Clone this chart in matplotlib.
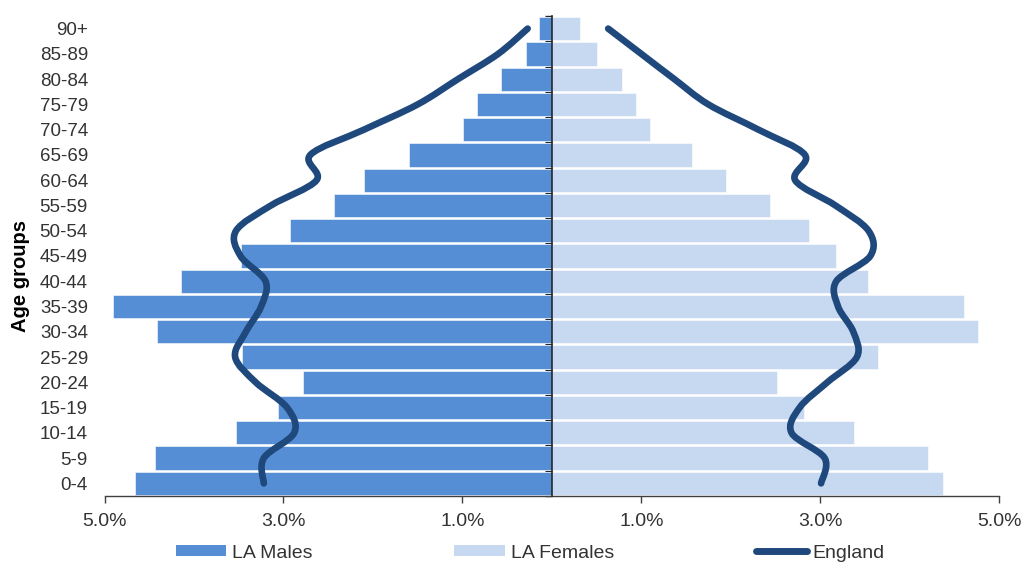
import numpy as np
import matplotlib
matplotlib.use("Agg")
import matplotlib.pyplot as plt
from matplotlib.path import Path
from matplotlib.patches import PathPatch, Patch
from matplotlib.lines import Line2D

plt.rcParams['font.family'] = ['Liberation Sans', 'DejaVu Sans']

age_groups = ["0-4", "5-9", "10-14", "15-19", "20-24", "25-29", "30-34", "35-39",
              "40-44", "45-49", "50-54", "55-59", "60-64", "65-69", "70-74",
              "75-79", "80-84", "85-89", "90+"]
la_males = [4.66, 4.44, 3.53, 3.06, 2.78, 3.46, 4.41, 4.90, 4.14, 3.48,
            2.93, 2.44, 2.10, 1.60, 0.99, 0.84, 0.57, 0.29, 0.14]
la_females = [4.37, 4.21, 3.38, 2.82, 2.52, 3.65, 4.76, 4.61, 3.53, 3.18,
              2.87, 2.44, 1.95, 1.57, 1.10, 0.94, 0.78, 0.51, 0.32]
eng_males = [3.22, 3.22, 2.88, 2.96, 3.31, 3.54, 3.42, 3.25, 3.20, 3.48,
             3.53, 3.14, 2.63, 2.70, 2.10, 1.50, 1.05, 0.60, 0.27]
eng_females = [3.01, 3.05, 2.68, 2.77, 3.08, 3.41, 3.37, 3.20, 3.18, 3.56,
               3.54, 3.17, 2.72, 2.83, 2.31, 1.75, 1.37, 1.00, 0.63]
x_ticks = [-5, -3, -1, 1, 3, 5]
x_tick_labels = ["5.0%", "3.0%", "1.0%", "1.0%", "3.0%", "5.0%"]

c_male = '#558ED5'
c_female = '#C6D9F1'
c_line = '#1F497D'
c_text = '#333333'

fig = plt.figure(figsize=(10.3, 5.63), dpi=100)
ax = fig.add_axes([0.1015, 0.119, 0.8685, 0.8526])

y = np.arange(len(age_groups))
ax.barh(y, -np.array(la_males), height=0.92, color=c_male, edgecolor='white', linewidth=0.4, zorder=2)
ax.barh(y, la_females, height=0.92, color=c_female, edgecolor='white', linewidth=0.4, zorder=2)


def smooth_path(xs, ys):
    pts = np.column_stack([xs, ys]).astype(float)
    n = len(pts)
    verts = [pts[0]]
    codes = [Path.MOVETO]
    for i in range(n - 1):
        p0 = pts[i - 1] if i > 0 else pts[i]
        p1 = pts[i]
        p2 = pts[i + 1]
        p3 = pts[i + 2] if i + 2 < n else pts[i + 1]
        c1 = p1 + (p2 - p0) / 6.0
        c2 = p2 - (p3 - p1) / 6.0
        verts += [c1, c2, p2]
        codes += [Path.CURVE4] * 3
    return Path(verts, codes)


for xs in (-np.array(eng_males), np.array(eng_females)):
    pp = PathPatch(smooth_path(xs, y), fill=False, edgecolor=c_line, lw=4.8,
                   capstyle='round', joinstyle='round', zorder=4)
    ax.add_patch(pp)

ax.set_xlim(-5, 5)
ax.set_ylim(-0.5, len(age_groups) - 0.5)

# x axis
ax.set_xticks(x_ticks)
ax.set_xticklabels(x_tick_labels, fontsize=14, color=c_text)
ax.tick_params(axis='x', direction='out', length=5, width=1, color='#404040', pad=7)
ax.spines['bottom'].set_color('#404040')
ax.spines['bottom'].set_linewidth(1)
ax.spines['top'].set_visible(False)
ax.spines['right'].set_visible(False)

# centre spine with boundary ticks
ax.spines['left'].set_position(('data', 0))
ax.spines['left'].set_color('#262626')
ax.spines['left'].set_linewidth(1.2)
ax.spines['left'].set_zorder(5)
ax.set_yticks(np.arange(-0.5, len(age_groups), 1.0))
ax.set_yticklabels([])
ax.tick_params(axis='y', direction='out', length=5, width=1, color='#262626')

# labels at left edge
sec = ax.secondary_yaxis(0.0)
sec.set_yticks(y)
sec.set_yticklabels(age_groups, fontsize=13.5, color=c_text)
sec.tick_params(axis='y', length=0, pad=12)
sec.spines['left'].set_visible(False)

fig.text(21 / 1030, 1 - 276 / 563, "Age groups", rotation=90, fontsize=14.5,
         fontweight='bold', ha='center', va='center', color='black')

handles = [Patch(facecolor=c_male, edgecolor='none'),
           Patch(facecolor=c_female, edgecolor='none'),
           Line2D([0], [0], color=c_line, lw=5, solid_capstyle='round')]
labels = ["LA Males", "LA Females", "England"]
fig.legend(handles, labels, loc='center', bbox_to_anchor=(530 / 1030, 1 - 553 / 563),
           ncol=3, frameon=False, fontsize=14, columnspacing=7.3, handlelength=2.6,
           handleheight=0.5, handletextpad=0.3, labelcolor=c_text)

fig.savefig("out.png", dpi=100, facecolor='white')
